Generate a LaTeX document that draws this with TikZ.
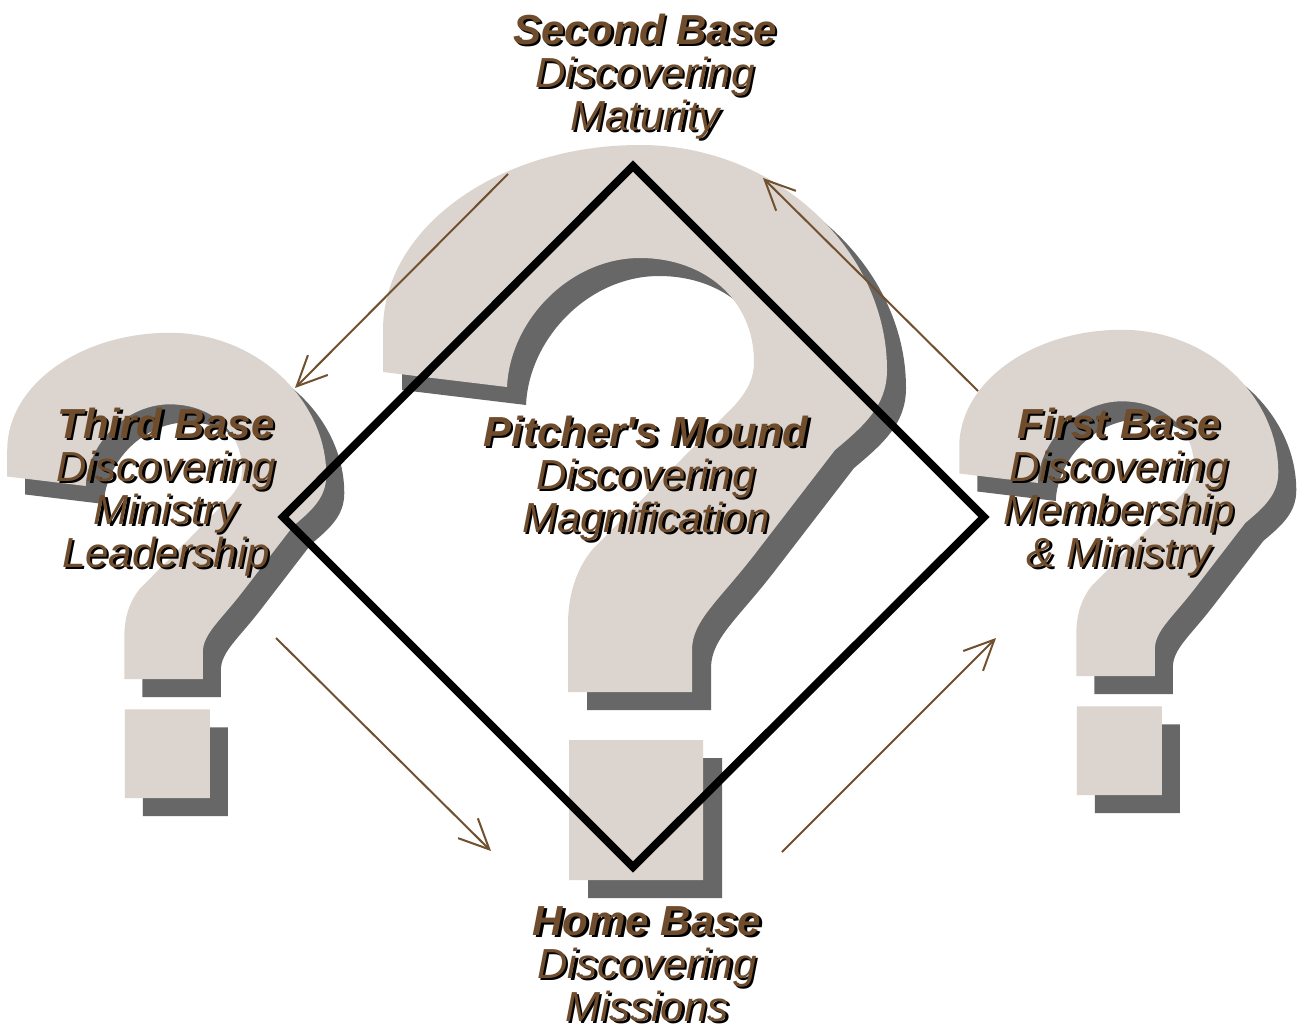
\documentclass[tikz,border=0pt]{standalone}
\usepackage{fontspec}
\setmainfont{Liberation Sans}
\usetikzlibrary{arrows.meta}
\definecolor{qfill}{HTML}{DCD4CE}
\definecolor{qshad}{HTML}{676767}
\definecolor{tbrown}{HTML}{6E4C2C}
\definecolor{abrown}{HTML}{70502F}
\tikzset{
  lbl/.style={align=center, inner sep=0pt, anchor=base, font=\fontsize{21pt}{21.5pt}\selectfont\itshape},
  flow/.style={draw=abrown, line width=1pt, -{Straight Barb[length=15pt,width=14pt,line width=1pt]}},
  field/.style={draw=black, line width=4pt, miter limit=10}
}
% outline of the question mark, in the pixel frame of the big one
\newcommand{\qpath}{%
  (383,372) -- (383,330)
  .. controls (383,228) and (498,145) .. (640,145)
  .. controls (776,145) and (887,250) .. (887,370)
  .. controls (887,405) and (865,425) .. (835,450)
  -- (758,550)
  .. controls (720,600) and (692,620) .. (692,650)
  -- (692,692) -- (568,692) -- (568,625)
  .. controls (568,595) and (576,570) .. (592,550)
  -- (735,405)
  .. controls (748,390) and (754,378) .. (754,362)
  .. controls (754,300) and (705,258) .. (640,258)
  .. controls (570,258) and (510,320) .. (507,387)
  -- cycle
  (569,740) rectangle (703,880)}
\newcommand{\shtext}[4]{%
  \node[lbl, text=black, xshift=1.2pt, yshift=-1.2pt] (#1s) at (#2,#3) {#4};
  \node[lbl, text=tbrown] (#1) at (#2,#3) {#4};}
\begin{document}
\begin{tikzpicture}[x=0.5pt,y=-0.5pt]
\useasboundingbox (0,0) rectangle (1306,1028);
\fill[white] (0,0) rectangle (1306,1028);
% question mark shadows
\begin{scope}[shift={(19,18)}]
  \fill[qshad] \qpath;
\end{scope}
\begin{scope}[shift={(-217.2,259)}, scale=0.633]
  \fill[qshad] \qpath;
\end{scope}
\begin{scope}[shift={(734.8,256)}, scale=0.633]
  \fill[qshad] \qpath;
\end{scope}
% question marks
\fill[qfill] \qpath;
\begin{scope}[shift={(-235.2,241)}, scale=0.633]
  \fill[qfill] \qpath;
\end{scope}
\begin{scope}[shift={(716.8,238)}, scale=0.633]
  \fill[qfill] \qpath;
\end{scope}
% diamond
\coordinate (dt) at (633,166);
\coordinate (dr) at (984,517);
\coordinate (db) at (633,867);
\coordinate (dl) at (283,517);
\draw[field] (dt) -- (dr) -- (db) -- (dl) -- cycle;
% arrows
\coordinate (a1s) at (978,391); \coordinate (a1e) at (763,178);
\coordinate (a2s) at (508,174); \coordinate (a2e) at (295,388);
\coordinate (a3s) at (276,638); \coordinate (a3e) at (491,851);
\coordinate (a4s) at (782,852); \coordinate (a4e) at (996,638);
\draw[flow] (a1s) -- (a1e);
\draw[flow] (a2s) -- (a2e);
\draw[flow] (a3s) -- (a3e);
\draw[flow] (a4s) -- (a4e);
% labels
\shtext{second}{645}{130}{\textbf{Second Base}\\Discovering\\Maturity}
\shtext{third}{166}{567}{\textbf{Third Base}\\Discovering\\Ministry\\Leadership}
\shtext{pitcher}{646}{532}{\textbf{Pitcher\textquotesingle s Mound}\\Discovering\\Magnification}
\shtext{first}{1119}{567}{\textbf{First Base}\\Discovering\\Membership\\\& Ministry}
\shtext{home}{647}{1021}{\textbf{Home Base}\\Discovering\\Missions}
\end{tikzpicture}
\end{document}
